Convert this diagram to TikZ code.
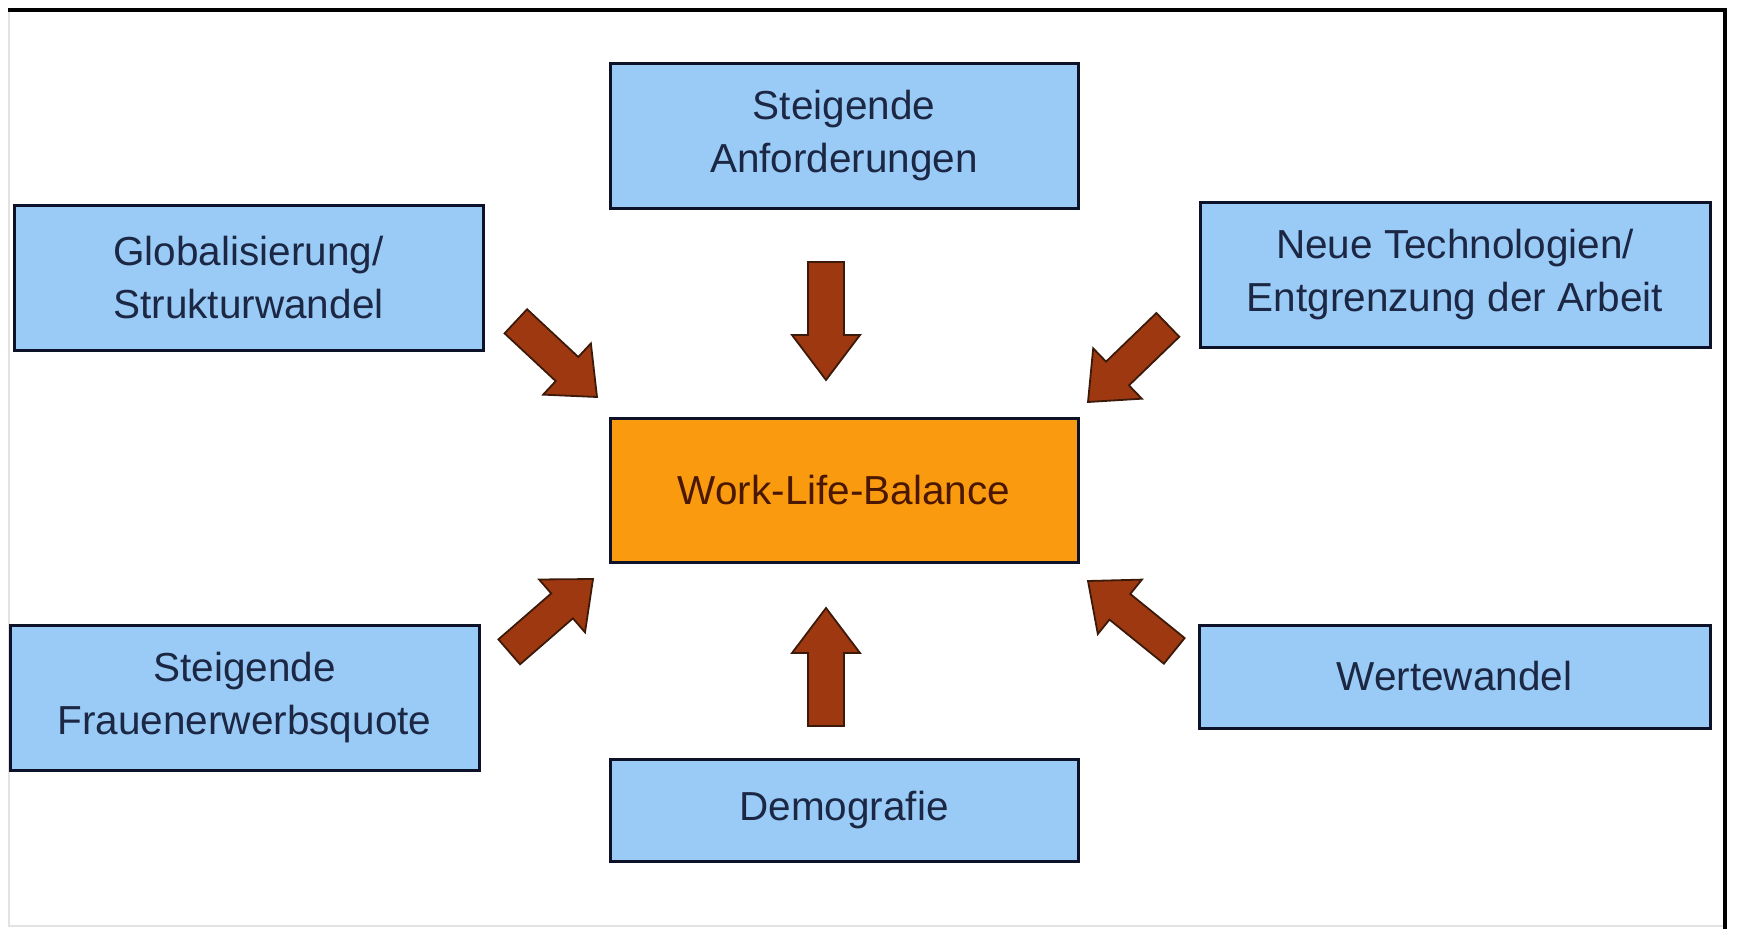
\documentclass[tikz,border=0pt]{standalone}
\usepackage{fontspec}
\setmainfont{Liberation Sans}
\definecolor{boxblue}{HTML}{9ACBF7}
\definecolor{boxline}{HTML}{0E1228}
\definecolor{boxtext}{HTML}{1C2744}
\definecolor{centerorange}{HTML}{FA9A0E}
\definecolor{centertext}{HTML}{4A1800}
\definecolor{arrowfill}{HTML}{9E3810}
\definecolor{arrowline}{HTML}{3C1A0A}
\definecolor{faintframe}{HTML}{E2E2E2}
\begin{document}
\begin{tikzpicture}[x=1pt,y=-1pt,
  factor/.style={draw=boxline, line width=3pt, fill=boxblue, text=boxtext,
    align=center, inner sep=0pt, minimum height=145pt,
    font=\fontsize{40.5}{53}\selectfont},
  core/.style={factor, fill=centerorange, text=centertext},
  arrowbody/.style={fill=arrowfill, draw=arrowline, line width=1.8pt, line join=miter},
  straightarrow/.pic={\filldraw[arrowbody] (0,0) -- (-45,34) -- (-45,18) -- (-118,18)
      -- (-118,-18) -- (-45,-18) -- (-45,-34) -- cycle;},
  diagarrow/.pic={\filldraw[arrowbody] (0,0) -- (-41,35) -- (-41,16.5) -- (-111,16.5)
      -- (-111,-16.5) -- (-41,-16.5) -- (-41,-35) -- cycle;}
]
\useasboundingbox (0,0) rectangle (1737,929);
\fill[white] (0,0) rectangle (1737,929);

% frame: faint left and bottom edges, heavy top and right edges
\draw[faintframe, line width=1.5pt] (9,10) -- (9,926) -- (1725,926);
\draw[black, line width=4pt] (8,10) -- (1727,10);
\draw[black, line width=4pt] (1725,8) -- (1725,929);

% factor boxes
\node[factor, minimum width=468pt] (anf)   at (844,135.5)   {Steigende\\Anforderungen};
\node[factor, minimum width=469pt] (glob)  at (248.5,278)   {Globalisierung/\\Strukturwandel};
\node[factor, minimum width=510pt] (neue)  at (1455,274.5)  {Neue Technologien/\\Entgrenzung der Arbeit};
\node[core,   minimum width=468pt, minimum height=144pt] (wlb) at (844,490) {Work-Life-Balance};
\node[factor, minimum width=469pt] (frau)  at (244.5,697.5) {Steigende\\Frauenerwerbsquote};
\node[factor, minimum width=511pt, minimum height=103pt] (werte) at (1454.5,676.5) {Wertewandel};
\node[factor, minimum width=468pt, minimum height=102pt] (demo)  at (844,810)     {Demografie};

% arrow tips around the central box
\coordinate (tipAnf)   at (826,380);
\coordinate (tipDemo)  at (826,608);
\coordinate (tipGlob)  at (597,397);
\coordinate (tipNeue)  at (1088,402);
\coordinate (tipFrau)  at (593,579);
\coordinate (tipWerte) at (1088,581);

\pic[rotate=-90]  at (tipAnf)   {straightarrow};
\pic[rotate=90]   at (tipDemo)  {straightarrow};
\pic[rotate=-43]  at (tipGlob)  {diagarrow};
\pic[rotate=-136] at (tipNeue)  {diagarrow};
\pic[rotate=41]   at (tipFrau)  {diagarrow};
\pic[rotate=141]  at (tipWerte) {diagarrow};
\end{tikzpicture}
\end{document}
